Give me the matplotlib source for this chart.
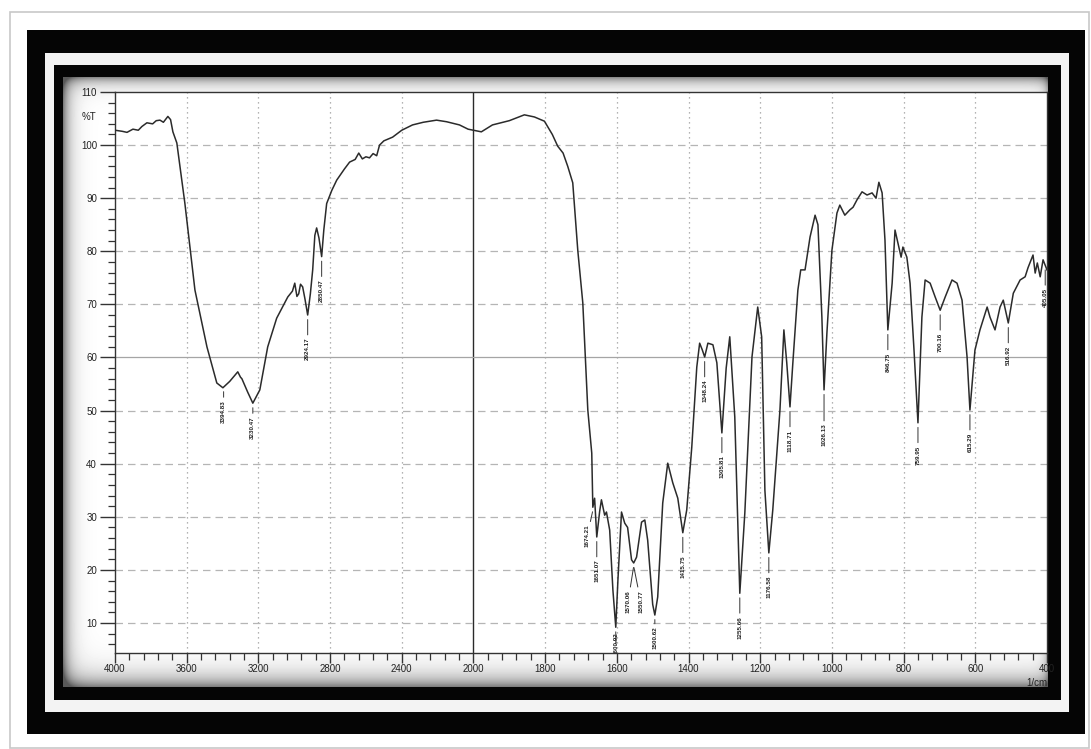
import numpy as np
import matplotlib
matplotlib.use("Agg")
import matplotlib.pyplot as plt
from matplotlib.patches import Rectangle
from matplotlib.ticker import FixedLocator

plt.rcParams['font.family'] = ['Liberation Sans', 'DejaVu Sans']

# IR spectrum (wavenumber in 1/cm, %T)
wavenumber = [
    4000, 3960, 3933, 3900, 3870, 3850, 3822, 3790, 3770, 3749, 3730, 3705, 3690, 3677,
    3655, 3610, 3554, 3487, 3432, 3398, 3360, 3315, 3300, 3292, 3260, 3231, 3192, 3148,
    3098, 3036, 3010, 2997, 2985, 2975, 2965, 2953, 2940, 2925, 2910, 2897, 2885, 2875,
    2862, 2847, 2835, 2819, 2790, 2763, 2720, 2691, 2660, 2640, 2620, 2600, 2580, 2560,
    2540, 2524, 2500, 2451, 2400, 2340, 2280, 2206, 2150, 2078, 2030, 2000, 1978, 1947,
    1900, 1858, 1830, 1802, 1780, 1765, 1750, 1737, 1723, 1709, 1695, 1681, 1670, 1667,
    1662, 1656, 1648, 1643, 1634, 1629, 1620, 1611, 1603, 1597, 1587, 1578, 1570, 1559,
    1553, 1545, 1531, 1522, 1514, 1500, 1494, 1486, 1472, 1458, 1444, 1430, 1416, 1405,
    1391, 1377, 1369, 1362, 1355, 1346, 1332, 1321, 1307, 1295, 1285, 1271, 1257, 1243,
    1223, 1207, 1196, 1187, 1176, 1165, 1145, 1134, 1126, 1117, 1109, 1095, 1087, 1075,
    1061, 1047, 1039, 1028, 1022, 1014, 1000, 986, 978, 964, 950, 941, 930, 916,
    902, 888, 877, 869, 860, 852, 844, 832, 824, 816, 807, 802, 791, 782,
    771, 760, 749, 740, 726, 712, 698, 684, 665, 651, 637, 623, 615, 601,
    587, 567, 559, 545, 531, 522, 508, 494, 475, 461, 453, 439, 433, 427,
    419, 411, 400,
]
transmittance = [
    102.8, 102.6, 102.4, 103.0, 102.8, 103.5, 104.2, 104.0, 104.6, 104.7, 104.3, 105.4, 104.8, 102.5,
    100.4, 89.0, 72.7, 62.0, 55.2, 54.3, 55.5, 57.3, 56.3, 56.0, 53.5, 51.4, 53.9, 62.0,
    67.4, 71.4, 72.5, 74.0, 71.5, 72.0, 73.8, 73.3, 71.0, 68.0, 72.0, 76.5, 83.0, 84.4,
    82.5, 79.0, 84.0, 89.0, 91.5, 93.4, 95.5, 96.8, 97.3, 98.5, 97.4, 97.8, 97.6, 98.4,
    98.0, 100.0, 100.8, 101.5, 102.8, 103.8, 104.3, 104.7, 104.4, 103.8, 103.0, 102.8, 102.5, 103.8,
    104.6, 105.7, 105.3, 104.5, 102.0, 99.8, 98.5, 96.0, 92.9, 80.2, 70.3, 50.1, 42.0, 31.8,
    33.5, 26.2, 31.0, 33.2, 30.3, 30.9, 27.5, 16.2, 9.2, 18.1, 30.9, 28.8, 28.0, 21.9,
    21.3, 22.4, 29.0, 29.4, 25.6, 13.5, 11.5, 14.9, 32.6, 40.1, 36.4, 33.5, 27.0, 31.3,
    43.1, 58.2, 62.7, 61.5, 60.1, 62.7, 62.4, 59.0, 45.8, 58.0, 63.9, 48.8, 15.6, 30.7,
    60.1, 69.5, 63.9, 35.0, 23.2, 31.3, 50.1, 65.2, 59.0, 50.7, 59.0, 72.7, 76.5, 76.5,
    82.7, 86.8, 85.0, 67.6, 53.9, 64.6, 80.2, 87.2, 88.7, 86.8, 87.8, 88.3, 89.7, 91.2,
    90.6, 91.0, 90.0, 93.0, 91.0, 82.1, 65.2, 74.0, 84.0, 81.6, 78.9, 80.8, 78.9, 74.0,
    61.4, 47.7, 67.6, 74.6, 74.0, 71.4, 68.9, 71.4, 74.6, 74.0, 70.8, 60.1, 50.1, 61.4,
    65.2, 69.5, 67.6, 65.2, 69.5, 70.8, 66.5, 72.1, 74.6, 75.2, 76.9, 79.3, 75.9, 77.8,
    75.2, 78.4, 76.5,
]

# picked peaks (the printed labels are too blurry to read exactly)
peak_wn = [3394, 3231, 2925, 2847, 1667, 1656, 1603, 1553, 1553, 1494, 1416, 1355,
           1307, 1257, 1176, 1117, 1022, 844, 760, 698, 615, 508, 405]
peak_labels = ['3394.83', '3230.47', '2924.17', '2850.47', '1674.21', '1651.07', '1600.92',
               '1570.06', '1550.77', '1500.62', '1415.75', '1348.24', '1305.81', '1255.66',
               '1176.58', '1118.71', '1026.13', '846.75', '759.95', '700.16', '615.29',
               '516.92', '405.05']

x_major = [4000, 3600, 3200, 2800, 2400, 2000, 1800, 1600, 1400, 1200, 1000, 800, 600, 400]
y_major = list(range(10, 111, 10))


def fwd(x):
    x = np.asarray(x, dtype=float)
    return np.where(x > 2000, 2000 + (x - 2000) / 2.0, x)


def inv(u):
    u = np.asarray(u, dtype=float)
    return np.where(u > 2000, 2000 + (u - 2000) * 2.0, u)


W, H = 1091, 749
fig = plt.figure(figsize=(W / 100, H / 100), dpi=100)
fig.patch.set_facecolor('white')

# decorative frame, drawn in pixel coordinates
bg = fig.add_axes([0, 0, 1, 1], zorder=-1)
bg.add_patch(Rectangle((10, 12), 1079, 736, facecolor='white', edgecolor='#c8c8c8', lw=1.2, zorder=1))
bg.add_patch(Rectangle((27, 30), 1058, 704, facecolor='#050505', edgecolor='none', zorder=1))
bg.add_patch(Rectangle((45, 53), 1024, 659, facecolor='#f3f3f3', edgecolor='none', zorder=1))
bg.add_patch(Rectangle((54, 65), 1007, 635, facecolor='#050505', edgecolor='none', zorder=1))

# inner panel with a soft shadow near the edges
px0, px1, py0, py1 = 63, 1048, 77, 687
pw, ph = px1 - px0, py1 - py0
xx, yy = np.meshgrid(np.arange(pw), np.arange(ph))
shade = (0.5 * np.exp(-xx / 7.0) + 0.45 * np.exp(-yy / 7.0)
         + 0.55 * np.exp(-(ph - yy) / 11.0) + 0.35 * np.exp(-(pw - xx) / 4.0))
panel = np.clip(1.0 - shade, 0.35, 1.0)
bg.imshow(panel, cmap='gray', vmin=0, vmax=1, extent=(px0, px1, py1, py0),
          interpolation='bilinear', aspect='auto', zorder=3)
bg.set_xlim(0, W)
bg.set_ylim(H, 0)
bg.axis('off')

ax = fig.add_axes([115 / W, 1 - 653 / H, 932 / W, 561 / H])
ax.set_facecolor('white')
ax.set_xscale('function', functions=(fwd, inv))
ax.set_xlim(4000, 400)
ax.set_ylim(4.35, 110)

# grid
for x in x_major[1:-1]:
    if x == 2000:
        ax.axvline(x, color='#2a2a2a', lw=1.0, zorder=1)
    else:
        ax.axvline(x, color='#9a9a9a', lw=0.9, ls=(0, (1, 3)), zorder=1)
for y in y_major[:-1]:
    if y == 60:
        ax.axhline(y, color='#a5a5a5', lw=0.9, zorder=1)
    else:
        ax.axhline(y, color='#b5b5b5', lw=0.9, ls=(0, (6, 4)), zorder=1)

ax.plot(wavenumber, transmittance, color='#2b2b2b', lw=1.1, zorder=3)

# peak labels
wn_r = np.array(wavenumber)[::-1]
t_r = np.array(transmittance)[::-1]
nudge = {'1674.21': (-4, 10), '1570.06': (-4, 17), '1550.77': (5, 17),
         '3394.83': (0, 7), '3230.47': (0, 7), '1026.13': (0, 22),
         '1600.92': (0, 1.5), '1500.62': (0, 6)}
for wn, lab in zip(peak_wn, peak_labels):
    t = np.interp(wn, wn_r, t_r)
    dx, gap = nudge.get(lab, (0, 14))
    ax.annotate(lab, xy=(wn, t - 0.6), xytext=(dx, -gap), textcoords='offset points',
                rotation=90, ha='center', va='top', fontsize=4.5, color='#222222',
                fontweight='bold', annotation_clip=True, clip_on=True, zorder=4,
                arrowprops=dict(arrowstyle='-', lw=0.7, color='#333333',
                                shrinkA=0, shrinkB=1))

# ticks
ax.xaxis.set_major_locator(FixedLocator(x_major))
ax.xaxis.set_minor_locator(FixedLocator(list(range(4000, 2000, -80)) + list(range(2000, 399, -40))))
ax.yaxis.set_major_locator(FixedLocator(y_major))
ax.yaxis.set_minor_locator(FixedLocator(list(range(6, 111, 2))))
ax.set_xticklabels([str(v) for v in x_major])
ax.set_yticklabels([str(v) for v in y_major])
ax.tick_params(axis='x', which='major', direction='out', length=7, width=1.0,
               color='#333333', labelsize=7, labelcolor='#222222', pad=1)
ax.tick_params(axis='x', which='minor', direction='out', length=5, width=0.9, color='#333333')
ax.tick_params(axis='y', which='major', direction='out', length=11, width=1.0,
               color='#333333', labelsize=7, labelcolor='#222222', pad=2)
ax.tick_params(axis='y', which='minor', direction='out', length=5, width=0.9, color='#333333')
for s in ax.spines.values():
    s.set_color('#333333')
    s.set_linewidth(1.0)

ax.annotate('%T', xy=(0, 105.2), xycoords=('axes fraction', 'data'), xytext=(-19, 0),
            textcoords='offset points', ha='center', va='center', fontsize=7, color='#222222')
ax.text(1.0, -0.053, '1/cm', transform=ax.transAxes, ha='right', va='center',
        fontsize=7, color='#222222')

fig.savefig('out.png', dpi=100)
